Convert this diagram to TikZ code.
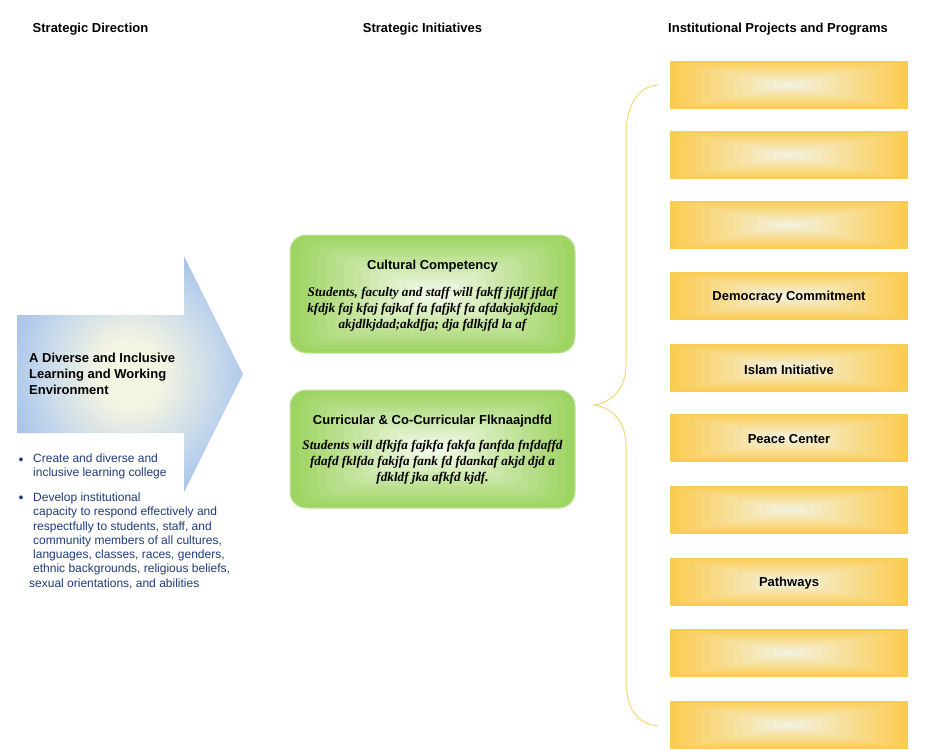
\documentclass[tikz,border=0pt]{standalone}
\usepackage{fontspec}
\setmainfont{Liberation Sans}
\newfontfamily\tnr{Liberation Serif}
\definecolor{ye}{HTML}{FBCC52}
\definecolor{yc}{HTML}{F3F1DD}
\definecolor{ge}{HTML}{9ED462}
\definecolor{gc}{HTML}{F3F9E9}
\definecolor{gb}{HTML}{C4E5A0}
\definecolor{be}{HTML}{86ADE2}
\definecolor{bm}{HTML}{BCD2EC}
\definecolor{bc}{HTML}{F4F4E2}
\definecolor{navy}{HTML}{1F3C7C}
\definecolor{brc}{HTML}{FAD67A}
\pgfdeclareradialshading{arrowsh}{\pgfpoint{0bp}{0bp}}{color(0bp)=(bc); color(7bp)=(bc); color(22bp)=(bm); color(36bp)=(be); color(70bp)=(be)}
\newcommand\ybox[3]{%
  \foreach \k in {0,...,14}{%
    \pgfmathsetmacro\f{\k/15}%
    \pgfmathsetmacro\p{100*\k/14}%
    \fill[yc!\p!ye] ({670+119*\f},{#2+24*\f}) rectangle ({908-119*\f},{#2+48-24*\f});
  }%
  \node[yboxn] (#1) at (789,{#2+24}) {};
  \node[ylab] (#1t) at (789,{#2+25.5}) {#3};
}
\newcommand\gbox[2]{%
  \foreach \k in {0,...,15}{%
    \pgfmathsetmacro\f{\k/16}%
    \pgfmathsetmacro\p{100*\k/15}%
    \pgfmathsetmacro\r{16*(1-\f)+0.5}%
    \fill[gc!\p!ge, rounded corners=\r pt] ({290+142.5*\f},{#2+59*\f}) rectangle ({575-142.5*\f},{#2+118-59*\f});
  }%
  \draw[gb, line width=1pt, rounded corners=16pt] (290,#2) rectangle (575,{#2+118});
  \node[gboxn] (#1) at (432.5,{#2+59}) {};
}
\begin{document}
\begin{tikzpicture}[x=1pt,y=-1pt,
  hdr/.style={font=\fontsize{13}{16}\selectfont\bfseries, inner sep=0pt},
  yboxn/.style={minimum width=238pt, minimum height=48pt, inner sep=0pt},
  ylab/.style={font=\fontsize{13}{16}\selectfont\bfseries, inner sep=0pt},
  gboxn/.style={minimum width=285pt, minimum height=118pt, inner sep=0pt},
  gtitle/.style={font=\fontsize{13}{16}\selectfont\bfseries, inner sep=0pt},
  gbody/.style={font=\tnr\fontsize{13.2}{16}\selectfont\bfseries\itshape, align=center, inner sep=0pt},
  btext/.style={font=\fontsize{12}{14.3}\selectfont, text=navy, align=left, inner sep=0pt, anchor=north west},
  bul/.style={font=\fontsize{14}{16}\selectfont, text=navy, inner sep=0pt},
  brace/.style={draw=brc, line width=1pt}]
\useasboundingbox (0,0) rectangle (930,750);
\fill[white] (0,0) rectangle (930,750);
% headers
\node[hdr] (h1) at (90.5,29) {Strategic Direction};
\node[hdr] (h2) at (422.5,29) {Strategic Initiatives};
\node[hdr] (h3) at (778,29) {Institutional Projects and Programs};
% arrow
\shade[shading=arrowsh] (17,315) -- (184,315) -- (184,256) -- (243,374) -- (184,492) -- (184,433) -- (17,433) -- cycle;
\node[font=\fontsize{13}{16}\selectfont\bfseries, align=left, inner sep=0pt, anchor=west] (dir) at (29,374) {A Diverse and Inclusive\\Learning and Working\\Environment};
% bullets
\node[bul] (b1) at (21,461) {•};
\node[btext] (t1) at (33,453.5) {Create and diverse and\\inclusive learning college};
\node[bul] (b2) at (21,499) {•};
\node[btext] (t2) at (33,492.5) {Develop institutional\\capacity to respond effectively and\\respectfully to students, staff, and\\community members of all cultures,\\languages, classes, races, genders,\\ethnic backgrounds, religious beliefs,\\\hspace*{-4pt}sexual orientations, and abilities};
% green boxes
\gbox{g1}{235}
\node[gtitle] (g1t) at (432.5,266.5) {Cultural Competency};
\node[gbody] (g1b) at (432.5,309) {Students, faculty and staff will fakff jfdjf jfdaf\\kfdjk faj kfaj fajkaf fa fafjkf fa afdakjakjfdaaj\\akjdlkjdad;akdfja; dja fdlkjfd la af};
\gbox{g2}{390}
\node[gtitle] (g2t) at (432.5,421.5) {Curricular \& Co-Curricular Flknaajndfd};
\node[gbody] (g2b) at (432.5,462.5) {Students will dfkjfa fajkfa fakfa fanfda fnfdaffd\\fdafd fklfda fakjfa fank fd fdankaf akjd djd a\\fdkldf jka afkfd kjdf.};
% yellow boxes
\ybox{p1}{61}{}
\ybox{p2}{131}{}
\ybox{p3}{201}{}
\ybox{p4}{272}{Democracy Commitment}
\ybox{p5}{344}{Islam Initiative}
\ybox{p6}{414}{Peace Center}
\ybox{p7}{486}{}
\ybox{p8}{558}{Pathways}
\ybox{p9}{629}{}
\ybox{p10}{701}{}
% brace
\coordinate (bt) at (658,85);
\coordinate (bmid) at (594,405);
\coordinate (bb) at (658,726);
\draw[brace] (bt) .. controls (636,87) and (626,108) .. (626,135) -- (626,365) .. controls (626,390) and (610,403) .. (bmid) .. controls (610,407) and (626,420) .. (626,445) -- (626,680) .. controls (626,707) and (636,724) .. (bb);
\end{tikzpicture}
\end{document}
